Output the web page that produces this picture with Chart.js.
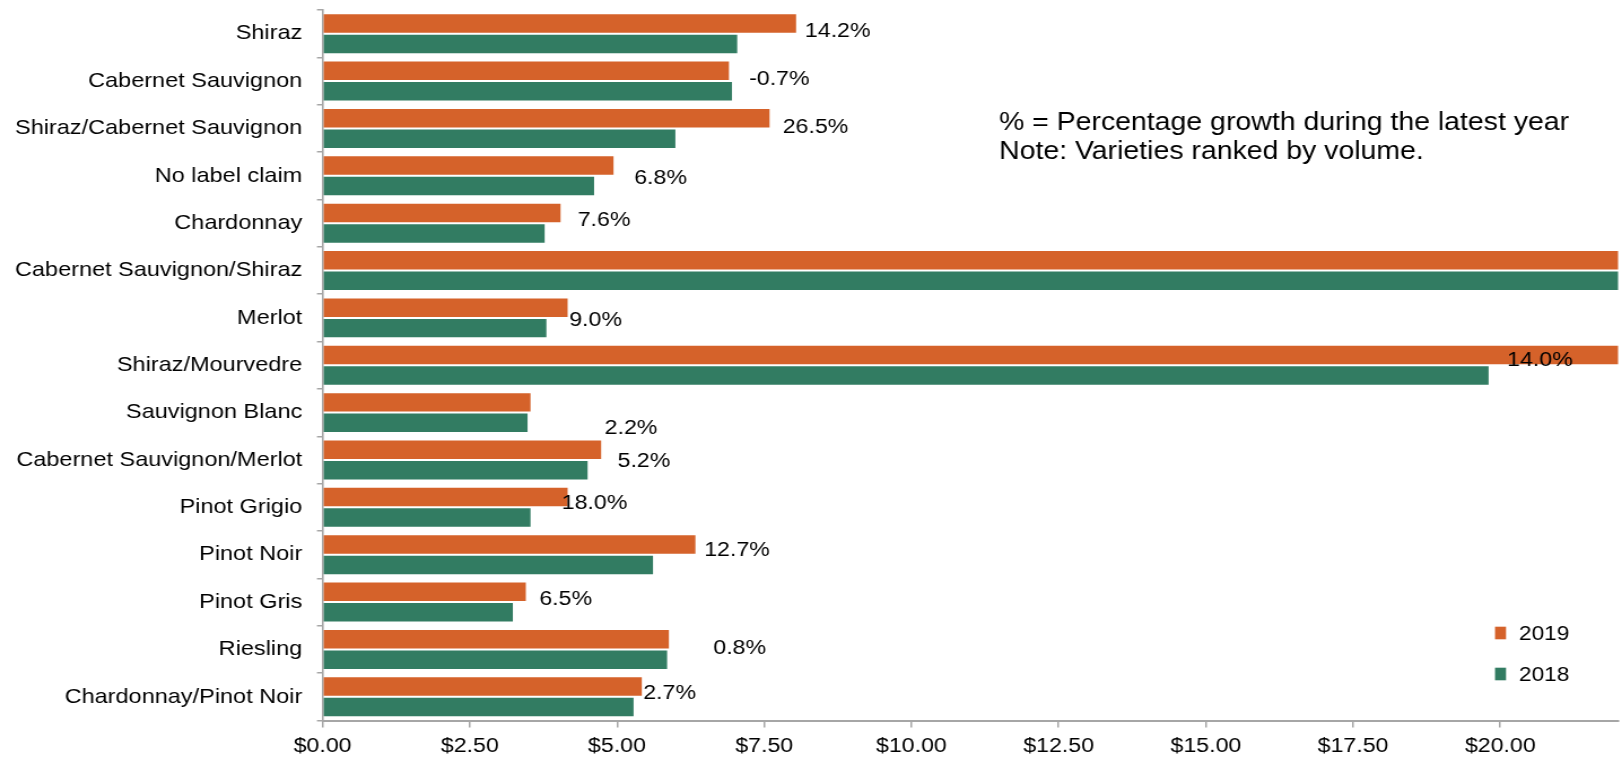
<!DOCTYPE html>
<html>
<head>
<meta charset="utf-8">
<script src="https://cdn.jsdelivr.net/npm/chart.js@4.4.1/dist/chart.umd.min.js"></script>
<style>
  html, body { margin: 0; padding: 0; background: #ffffff; overflow: hidden; }
  #stage { width: 1622px; height: 762px; overflow: hidden; position: relative; background: #fff; }
  #wrap { position: absolute; left: 0; top: 0; width: 1436px; height: 762px;
          transform: scaleX(1.12953); transform-origin: 0 0; }
</style>
</head>
<body>
<div id="stage"><div id="wrap"><canvas id="c"></canvas></div></div>
<script>
// ---- data ----
const categories = [
  'Shiraz', 'Cabernet Sauvignon', 'Shiraz/Cabernet Sauvignon', 'No label claim', 'Chardonnay',
  'Cabernet Sauvignon/Shiraz', 'Merlot', 'Shiraz/Mourvedre', 'Sauvignon Blanc',
  'Cabernet Sauvignon/Merlot', 'Pinot Grigio', 'Pinot Noir', 'Pinot Gris', 'Riesling',
  'Chardonnay/Pinot Noir'
];
const seriesNames = ['2019', '2018'];
const values2019 = [8.06, 6.92, 7.61, 4.96, 4.06, 25.0, 4.18, 22.6, 3.55, 4.75, 4.18, 6.35, 3.47, 5.90, 5.44];
const values2018 = [7.06, 6.97, 6.01, 4.63, 3.79, 24.0, 3.82, 19.82, 3.50, 4.52, 3.55, 5.63, 3.25, 5.87, 5.30];
const growthPct  = [14.2, -0.7, 26.5, 6.8, 7.6, null, 9.0, 14.0, 2.2, 5.2, 18.0, 12.7, 6.5, 0.8, 2.7];
const xTickValues = [0, 2.5, 5, 7.5, 10, 12.5, 15, 17.5, 20];
const noteLines = ['% = Percentage growth during the latest year', 'Note: Varieties ranked by volume.'];

// ---- presentation ----
const STRETCH = 1622 / 1436;
const FONT = '"Liberation Sans", Arial, Helvetica, sans-serif';
const ORANGE = '#D5622A';
const GREEN = '#327C62';
const AXIS = '#A6A6A6';
// label nudges (reference pixels) relative to end of 2019 bar and category centre
const labelDx = [7.7, 19, 12, 19.5, 16, 0, 0.5, -111, 73, 15.3, -7, 7.7, 12.3, 43.3, 0.3];
const labelDy = [-2, -1.7, -1.4, 2.5, -2.5, 0, 2.8, -5.3, 15.7, 1.7, -4, -4, -2.8, -1.2, -3.5];

const overlayPlugin = {
  id: 'overlay',
  afterDatasetsDraw(chart) {
    const ctx = chart.ctx;
    const xs = chart.scales.x, ys = chart.scales.y;
    ctx.save();
    // growth labels
    ctx.font = '20.5px ' + FONT;
    ctx.fillStyle = '#000';
    ctx.textAlign = 'left';
    ctx.textBaseline = 'middle';
    growthPct.forEach((g, i) => {
      if (g === null) return;
      const v = Math.min(values2019[i], xs.max);
      const x = xs.getPixelForValue(v) + labelDx[i] / STRETCH;
      const y = ys.getPixelForValue(i) + labelDy[i];
      ctx.fillText(g.toFixed(1) + '%', x, y);
    });
    // note text
    ctx.font = '25.2px ' + FONT;
    ctx.textBaseline = 'alphabetic';
    ctx.fillText(noteLines[0], 999 / STRETCH, 129.5);
    ctx.fillText(noteLines[1], 999 / STRETCH, 158.5);
    // legend
    ctx.font = '20px ' + FONT;
    ctx.textBaseline = 'middle';
    chart.data.datasets.forEach((ds, k) => {
      const cy = 633 + k * 41;
      ctx.fillStyle = ds.backgroundColor;
      ctx.fillRect(1495 / STRETCH, cy - 6.3, 11 / STRETCH, 12.6);
      ctx.fillStyle = '#000';
      ctx.fillText(ds.label, 1519 / STRETCH, cy + 1);
    });
    ctx.restore();
  }
};

new Chart(document.getElementById('c'), {
  type: 'bar',
  data: {
    labels: categories,
    datasets: [
      { label: seriesNames[0], data: values2019, backgroundColor: ORANGE,
        borderColor: 'rgba(255,255,255,0.25)', borderWidth: 1, borderSkipped: 'start',
        barPercentage: 1.0, categoryPercentage: 0.865 },
      { label: seriesNames[1], data: values2018, backgroundColor: GREEN,
        borderColor: 'rgba(255,255,255,0.25)', borderWidth: 1, borderSkipped: 'start',
        barPercentage: 1.0, categoryPercentage: 0.865 }
    ]
  },
  options: {
    indexAxis: 'y',
    responsive: true,
    maintainAspectRatio: false,
    animation: false,
    events: [],
    layout: { padding: { left: 0, right: 3.5, top: 10, bottom: 0 } },
    plugins: { legend: { display: false }, tooltip: { enabled: false }, title: { display: false } },
    scales: {
      x: {
        type: 'linear', min: 0, max: 22,
        afterBuildTicks: (s) => { s.ticks = xTickValues.map(v => ({ value: v })); },
        afterFit: (s) => { s.height = 41.5; s.paddingLeft = 0; s.paddingRight = 0; },
        grid: { drawOnChartArea: false, drawTicks: true, tickLength: 7, color: AXIS, lineWidth: 1.5 },
        border: { display: true, color: AXIS, width: 2 },
        ticks: { color: '#000', font: { family: FONT, size: 20.5 }, padding: 7,
                 maxRotation: 0, autoSkip: false,
                 callback: (v) => '$' + Number(v).toFixed(2) }
      },
      y: {
        type: 'category', offset: true,
        afterFit: (s) => { s.width = 285.6; s.paddingTop = 0; s.paddingBottom = 0; },
        grid: { offset: true, drawOnChartArea: false, drawTicks: true, tickLength: 5, color: AXIS, lineWidth: 1.5 },
        border: { display: true, color: AXIS, width: 1.6 },
        ticks: { color: '#000', font: { family: FONT, size: 20.8 }, padding: 13, autoSkip: false }
      }
    }
  },
  plugins: [overlayPlugin]
});
</script>
</body>
</html>
